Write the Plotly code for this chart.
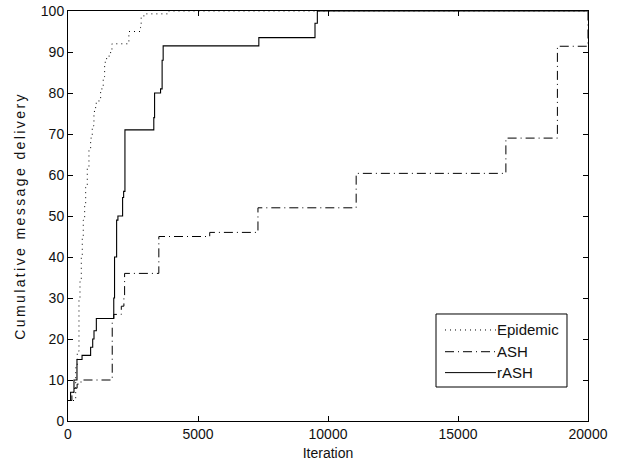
import plotly.graph_objects as go

# ---- data ----
epidemic_x = [0, 296, 357, 422, 461, 511, 549, 587, 641, 680, 741, 806, 871, 933, 998,
              1063, 1190, 1255, 1355, 1409, 1486, 1639, 1690, 2342, 2600, 2791, 2814, 2918,
              3840, 20000]
epidemic_y = [5, 13, 17, 30, 34, 40, 45, 49, 53, 57, 62, 66, 69, 72, 75.5,
              77.5, 78.5, 81, 84, 87.5, 89, 90.5, 92, 95, 95, 96, 98.5, 99.3,
              100, 100]

ash_x = [0, 150, 250, 350, 500, 1701, 1760, 2050, 2150, 2177, 3494, 5451, 7306, 11083,
         16842, 18823, 20000]
ash_y = [5, 7, 8, 9, 10, 25, 26, 28, 30, 36, 45, 46, 52, 60.4,
         69, 91.4, 100]

rash_x = [0, 100, 230, 345, 540, 870, 950, 1000, 1090, 1740, 1760, 1790, 1870, 1920,
          2100, 2140, 2190, 3275, 3300, 3330, 3560, 3620, 3660, 7340, 9460, 9500, 9590,
          20000]
rash_y = [5, 7, 10, 15, 16, 18, 20, 22, 25, 25, 30, 40, 49, 50,
          54.5, 56, 71, 71, 74, 80, 81, 88, 91.5, 93.5, 93.5, 97, 100,
          100]

x_ticks = [0, 5000, 10000, 15000, 20000]
y_ticks = [0, 10, 20, 30, 40, 50, 60, 70, 80, 90, 100]

series_names = ["Epidemic", "ASH", "rASH"]

FONT = "Liberation Sans, Arial, sans-serif"
DOT = "1px,4px"
DASHDOT = "9px,4px,1px,4px"

fig = go.Figure()
fig.add_trace(go.Scatter(x=epidemic_x, y=epidemic_y, mode="lines", name=series_names[0],
                         line=dict(color="black", width=1, dash=DOT, shape="hv"),
                         showlegend=False))
fig.add_trace(go.Scatter(x=ash_x, y=ash_y, mode="lines", name=series_names[1],
                         line=dict(color="black", width=1, dash=DASHDOT, shape="hv"),
                         showlegend=False))
fig.add_trace(go.Scatter(x=rash_x, y=rash_y, mode="lines", name=series_names[2],
                         line=dict(color="black", width=1.1, shape="hv"),
                         showlegend=False))

axis_common = dict(showline=True, linecolor="black", linewidth=1, mirror="ticks",
                   ticks="inside", ticklen=5, tickcolor="black", showgrid=False,
                   zeroline=False, automargin=False,
                   tickfont=dict(family=FONT, size=14, color="#111111"))

fig.update_xaxes(range=[0, 20000], tickvals=x_ticks, ticktext=[str(v) for v in x_ticks],
                 title=dict(text="Iteration", font=dict(family=FONT, size=14, color="#111111"),
                            standoff=7),
                 **axis_common)
fig.update_yaxes(range=[0, 100], tickvals=y_ticks, ticktext=[str(v) for v in y_ticks],
                 title=dict(text='<span style="letter-spacing:2.4px">Cumulative message delivery</span>',
                            font=dict(family=FONT, size=14, color="#111111"), standoff=11),
                 **axis_common)

# custom legend box (paper coordinates)
lx0, lx1, ly0, ly1 = 0.7077, 0.9596, 0.0829, 0.261
fig.add_shape(type="rect", xref="paper", yref="paper", x0=lx0, x1=lx1, y0=ly0, y1=ly1,
              line=dict(color="black", width=1), fillcolor="white", layer="above")
entry_y = [0.222, 0.169, 0.118]
dashes = [DOT, DASHDOT, "solid"]
for name, yy, d in zip(series_names, entry_y, dashes):
    fig.add_shape(type="line", xref="paper", yref="paper", x0=0.725, x1=0.823, y0=yy, y1=yy,
                  line=dict(color="black", width=1, dash=d), layer="above")
    fig.add_annotation(xref="paper", yref="paper", x=0.825, y=yy, text=name, showarrow=False,
                       xanchor="left", yanchor="middle", xshift=-2,
                       font=dict(family=FONT, size=15, color="#111111"))

fig.update_layout(width=632, height=466, margin=dict(l=68, r=44, t=11, b=45, pad=0),
                  paper_bgcolor="white", plot_bgcolor="white", showlegend=False)

fig.write_html("out.html", config={"displayModeBar": False},
               post_script="document.body.style.margin='0';document.body.style.overflow='hidden';")
